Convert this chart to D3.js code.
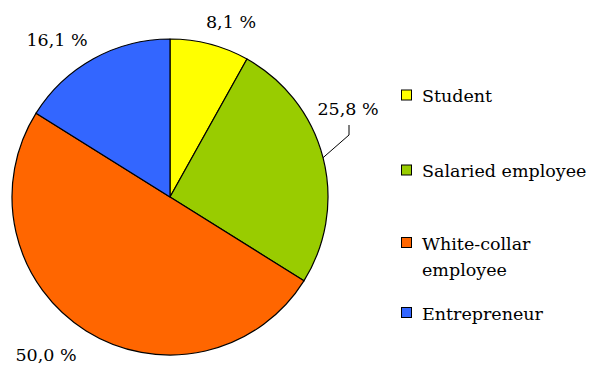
<!DOCTYPE html>
<html>
<head>
<meta charset="utf-8">
<script src="https://cdn.jsdelivr.net/npm/d3@7"></script>
<style>
  html, body { margin: 0; padding: 0; background: #fff; }
  svg { display: block; }
</style>
</head>
<body>
<svg id="chart" width="591" height="365"></svg>
<script>
// Occupation shares (percent), clockwise from 12 o'clock
const categories = ["Student", "Salaried employee", "White-collar employee", "Entrepreneur"];
const shares = [8.1, 25.8, 50.0, 16.1];
const colors = ["#FFFF00", "#99CC00", "#FF6600", "#3366FF"];
const legendLines = [["Student"], ["Salaried employee"], ["White-collar", "employee"], ["Entrepreneur"]];

const svg = d3.select("#chart");
const cx = 170, cy = 197, r = 158;
const fontSize = 17.5;
const fontFamily = "'DejaVu Serif', 'DejaVu Sans', sans-serif";

const data = categories.map((c, i) => ({ name: c, value: shares[i], color: colors[i] }));

const pie = d3.pie().value(d => d.value).sort(null);
const arcs = pie(data);
const arc = d3.arc().innerRadius(0).outerRadius(r);

const g = svg.append("g").attr("transform", `translate(${cx},${cy})`);
g.selectAll("path.slice")
  .data(arcs)
  .join("path")
  .attr("class", "slice")
  .attr("d", arc)
  .attr("fill", d => d.data.color)
  .attr("stroke", "#000")
  .attr("stroke-width", 1.2)
  .attr("stroke-linejoin", "round");

const fmt = v => d3.format(".1f")(v).replace(".", ",") + " %";

// Value labels placed outside the rim
const labelPos = [
  { x: 231, y: 28 },   // Student
  { x: 348, y: 115 },  // Salaried employee
  { x: 46, y: 361 },   // White-collar employee
  { x: 57, y: 46 }     // Entrepreneur
];

svg.selectAll("text.val")
  .data(arcs)
  .join("text")
  .attr("class", "val")
  .attr("x", (d, i) => labelPos[i].x)
  .attr("y", (d, i) => labelPos[i].y)
  .attr("text-anchor", "middle")
  .attr("font-family", fontFamily)
  .attr("font-size", fontSize)
  .attr("fill", "#000")
  .text(d => fmt(d.data.value));

// Leader line for the salaried-employee label, ending on the slice's mid-angle rim
const sal = arcs[1];
const midA = (sal.startAngle + sal.endAngle) / 2;
const rimX = cx + r * Math.sin(midA), rimY = cy - r * Math.cos(midA);
svg.append("path")
  .attr("d", `M349,125 L349,135 L${rimX},${rimY}`)
  .attr("fill", "none")
  .attr("stroke", "#000")
  .attr("stroke-width", 1);

// Legend
const legendY = [95, 170, 242.5, 312.5];
const items = svg.append("g").selectAll("g.item")
  .data(data)
  .join("g")
  .attr("class", "item")
  .attr("transform", (d, i) => `translate(401,${legendY[i]})`);

items.append("rect")
  .attr("x", 0.5).attr("y", -5)
  .attr("width", 10).attr("height", 10)
  .attr("fill", d => d.color)
  .attr("stroke", "#000")
  .attr("stroke-width", 1);

items.each(function(d, i) {
  const t = d3.select(this).append("text")
    .attr("x", 21)
    .attr("y", 7)
    .attr("font-family", fontFamily)
    .attr("font-size", fontSize)
    .attr("fill", "#000");
  legendLines[i].forEach((line, j) => {
    t.append("tspan").attr("x", 21).attr("dy", j === 0 ? 0 : 26).text(line);
  });
});
</script>
</body>
</html>
